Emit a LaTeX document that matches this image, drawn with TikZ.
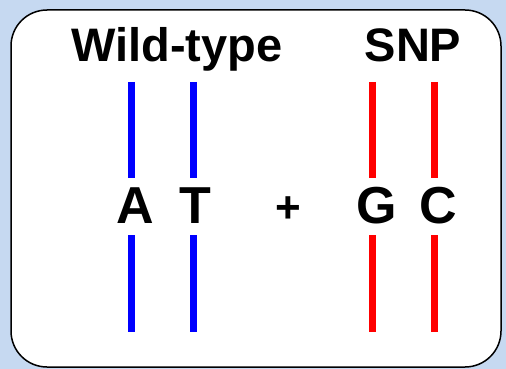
\documentclass[tikz,border=0pt]{standalone}
\usepackage{fontspec}
\setmainfont{Liberation Sans}
\definecolor{bgblue}{HTML}{C6D9F1}
\definecolor{strandblue}{HTML}{0000FF}
\definecolor{strandred}{HTML}{FF0000}
\begin{document}
\begin{tikzpicture}[x=1pt,y=-1pt,
  strand/.style={line width=7pt},
  base/.style={font=\fontsize{52}{52}\selectfont\bfseries, inner sep=0pt, anchor=base},
  heading/.style={font=\fontsize{47}{47}\selectfont\bfseries, inner sep=0pt, anchor=base}]
  % background and panel
  \fill[bgblue] (0,0) rectangle (506,369);
  \useasboundingbox (0,0) rectangle (506,369);
  \draw[line width=1.5pt, fill=white, rounded corners=36pt] (11,10) rectangle (501,367);
  % headings
  \node[heading] (wt) at (177,62) {Wild-type};
  \node[heading] (snp) at (413,62) {SNP};
  % base letters
  \node[base] (a) at (135,223) {A};
  \node[base] (t) at (195,223) {T};
  \node[base, font=\fontsize{44}{44}\selectfont\bfseries] (plus) at (288,222) {+};
  \node[base] (g) at (377,223) {G};
  \node[base] (c) at (438,223) {C};
  % strand ends
  \foreach \n/\x in {a/131.5,t/193.5,g/372.5,c/434.5}{
    \coordinate (\n top) at (\x,82);
    \coordinate (\n up) at (\x,178);
    \coordinate (\n lo) at (\x,235);
    \coordinate (\n bot) at (\x,332);
  }
  % strands
  \draw[strand, strandblue] (atop) -- (aup) (alo) -- (abot);
  \draw[strand, strandblue] (ttop) -- (tup) (tlo) -- (tbot);
  \draw[strand, strandred] (gtop) -- (gup) (glo) -- (gbot);
  \draw[strand, strandred] (ctop) -- (cup) (clo) -- (cbot);
\end{tikzpicture}
\end{document}
